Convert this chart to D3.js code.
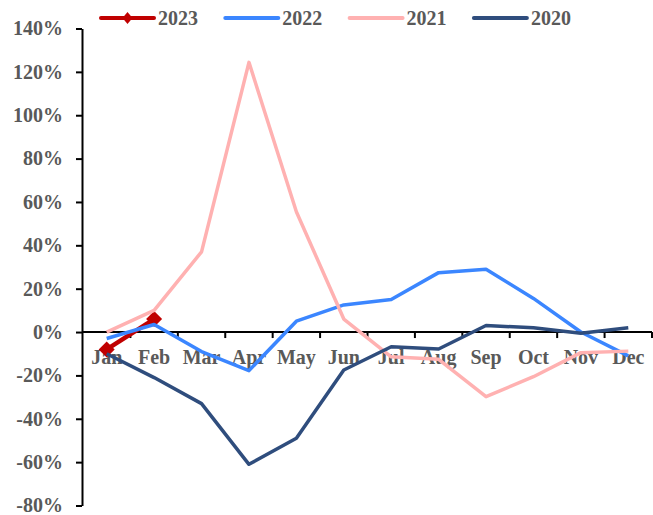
<!DOCTYPE html>
<html>
<head>
<meta charset="utf-8">
<script src="https://cdn.jsdelivr.net/npm/d3@7"></script>
<style>
  html, body { margin: 0; padding: 0; background: #fff; }
  svg { display: block; font-family: "Liberation Serif", "Times New Roman", serif; }
</style>
</head>
<body>
<svg id="chart" width="653" height="515"></svg>
<script>
// Month-on-month growth by month, one series per year
const months = ["Jan", "Feb", "Mar", "Apr", "May", "Jun", "Jul", "Aug", "Sep", "Oct", "Nov", "Dec"];
const yTicks = [-80, -60, -40, -20, 0, 20, 40, 60, 80, 100, 120, 140];

const s2023 = [-8, 6];
const s2022 = [-3, 3.5, -9, -17.8, 5, 12.5, 15, 27.4, 29, 15.5, 0, -11];
const s2021 = [0, 10, 37, 124.4, 55.5, 6, -11.4, -12.6, -29.8, -20.6, -9.5, -8.8];
const s2020 = [-10, -21, -33, -61, -49, -17.5, -6.8, -7.8, 3, 2, -0.6, 2];

const seriesNames = ["2023", "2022", "2021", "2020"];
const seriesValues = [s2023, s2022, s2021, s2020];
const seriesColors = ["#C00000", "#3B86FF", "#FFB1B1", "#2F4D7D"];
const seriesWidths = [4.5, 3.5, 3.5, 3.5];

const svg = d3.select("#chart");
const margin = { left: 83, right: 1, top: 28.5, bottom: 9.5 };
const W = 653, H = 515;

const x = d3.scaleBand().domain(months).range([margin.left, W - margin.right]).padding(0);
const y = d3.scaleLinear().domain([-80, 140]).range([H - margin.bottom, margin.top]);

const labelColor = "#595959";

// Y axis
const yAxis = svg.append("g")
  .attr("transform", `translate(${margin.left - 1},0)`)
  .call(d3.axisLeft(y).tickValues(yTicks).tickSize(6).tickSizeOuter(0).tickFormat(d => d + "%"));
yAxis.select(".domain").attr("stroke", "#000").attr("stroke-width", 2);
yAxis.selectAll(".tick line").attr("stroke", "#000").attr("stroke-width", 2);
yAxis.selectAll(".tick text")
  .attr("x", -19)
  .attr("fill", labelColor)
  .style("font-size", "20px")
  .style("font-weight", "bold")
  .style("font-family", "'Liberation Serif', 'Times New Roman', serif");

// X axis along the zero line, ticks at category boundaries
const x0 = y(0);
const xAxis = svg.append("g").attr("transform", `translate(0,${x0})`);
xAxis.append("line")
  .attr("x1", margin.left - 1).attr("x2", W - margin.right)
  .attr("stroke", "#000").attr("stroke-width", 2);
const bounds = months.map(m => x(m) + x.step());
xAxis.selectAll("line.bt").data(bounds).join("line")
  .attr("class", "bt")
  .attr("x1", d => d).attr("x2", d => d)
  .attr("y1", 0).attr("y2", 6)
  .attr("stroke", "#000").attr("stroke-width", 2);
xAxis.selectAll("text").data(months).join("text")
  .attr("x", m => x(m) + x.bandwidth() / 2)
  .attr("y", 32)
  .attr("text-anchor", "middle")
  .attr("fill", labelColor)
  .style("font-size", "20px")
  .style("font-weight", "bold")
  .text(m => m);

const cx = i => x(months[i]) + x.bandwidth() / 2;
const line = d3.line()
  .x((d, i) => cx(i))
  .y(d => y(d));

// Square-ish diamond marker
const diamondPath = (rx, ry) => `M0,${-ry}L${rx},0L0,${ry}L${-rx},0Z`;

// Series drawn in legend order; later years layer on top
seriesValues.forEach((vals, k) => {
  const g = svg.append("g");
  g.append("path")
    .datum(vals)
    .attr("fill", "none")
    .attr("stroke", seriesColors[k])
    .attr("stroke-width", seriesWidths[k])
    .attr("stroke-linejoin", "round")
    .attr("d", line);
  if (k === 0) {
    g.selectAll("path.mk").data(vals).join("path")
      .attr("class", "mk")
      .attr("d", diamondPath(8, 8))
      .attr("transform", (d, i) => `translate(${cx(i)},${y(d)})`)
      .attr("fill", seriesColors[0]);
  }
});

// Legend
const legend = svg.append("g").attr("transform", "translate(101,18)");
seriesNames.forEach((name, i) => {
  const g = legend.append("g").attr("transform", `translate(${i * 124.3},0)`);
  g.append("line")
    .attr("x1", 0).attr("x2", 53)
    .attr("stroke", seriesColors[i]).attr("stroke-width", 4)
    .attr("stroke-linecap", "round");
  if (i === 0) {
    g.append("path")
      .attr("d", diamondPath(5, 6))
      .attr("transform", "translate(26.5,0)")
      .attr("fill", seriesColors[0]);
  }
  g.append("text")
    .attr("x", 57)
    .attr("y", 0)
    .attr("dy", "0.35em")
    .attr("fill", labelColor)
    .style("font-size", "20px")
    .style("font-weight", "bold")
    .text(name);
});
</script>
</body>
</html>
